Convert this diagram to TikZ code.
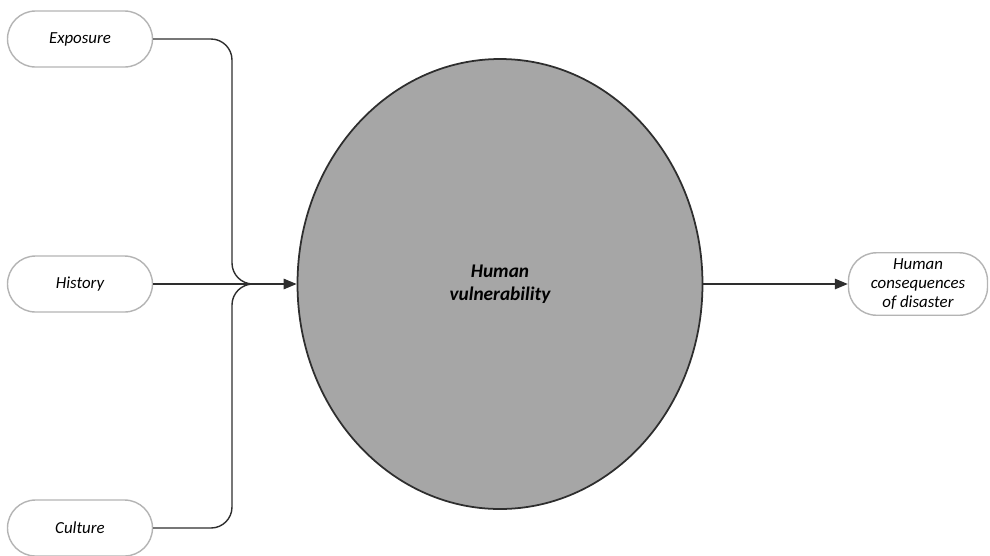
\documentclass[tikz,border=0pt]{standalone}
\usepackage{fontspec}
\setmainfont{Carlito}
\usetikzlibrary{shapes.geometric,arrows.meta}
\definecolor{boxline}{HTML}{B4B4B4}
\definecolor{wire}{HTML}{2E2E2E}
\definecolor{vulnfill}{HTML}{A6A6A6}
\begin{document}
\begin{tikzpicture}
\tikzstyle{factor}=[anchor=center,minimum width=2.9 cm,minimum height=1.12 cm,rounded corners=0.56 cm,draw=boxline,fill=white,thick,text centered,font=\fontsize{9.6}{11}\selectfont\itshape]
\tikzstyle{core}=[anchor=center,ellipse,minimum width=8.1 cm,minimum height=9 cm,draw=wire,fill=vulnfill,line width=1pt,align=center,font=\fontsize{11}{13}\selectfont\bfseries\itshape]
\tikzstyle{wire}=[draw=wire,line width=0.8pt]
\tikzstyle{arrow}=[wire,-{Triangle[length=2.6mm,width=2.1mm]}]

\useasboundingbox (0,0) rectangle (19.8,-11.1);

\node [factor] at (1.6,-0.78) (expo) {Exposure};
\node [factor] at (1.6,-5.68) (hist) {History};
\node [factor] at (1.6,-10.56) (cult) {Culture};

\node [core] at (10,-5.68) (vuln) {Human\\vulnerability};
\node [factor,minimum width=2.78 cm,minimum height=1.14 cm,align=center,font=\fontsize{9.6}{10.8}\selectfont\itshape] at (18.36,-5.68) (cons) {Human\\consequences\\of disaster};

\coordinate (spine) at (4.64,-5.68);
\coordinate (join) at (5.16,-5.68);

\draw [wire,rounded corners=0.42 cm] (expo.east) -| (spine) -- (join);
\draw [wire,rounded corners=0.42 cm] (cult.east) -| (spine) -- (join);
\draw [wire] (hist.east) -- (join);
\draw [arrow] (join) -- (vuln.west);
\draw [arrow] (vuln.east) -- (cons.west);
\end{tikzpicture}
\end{document}
